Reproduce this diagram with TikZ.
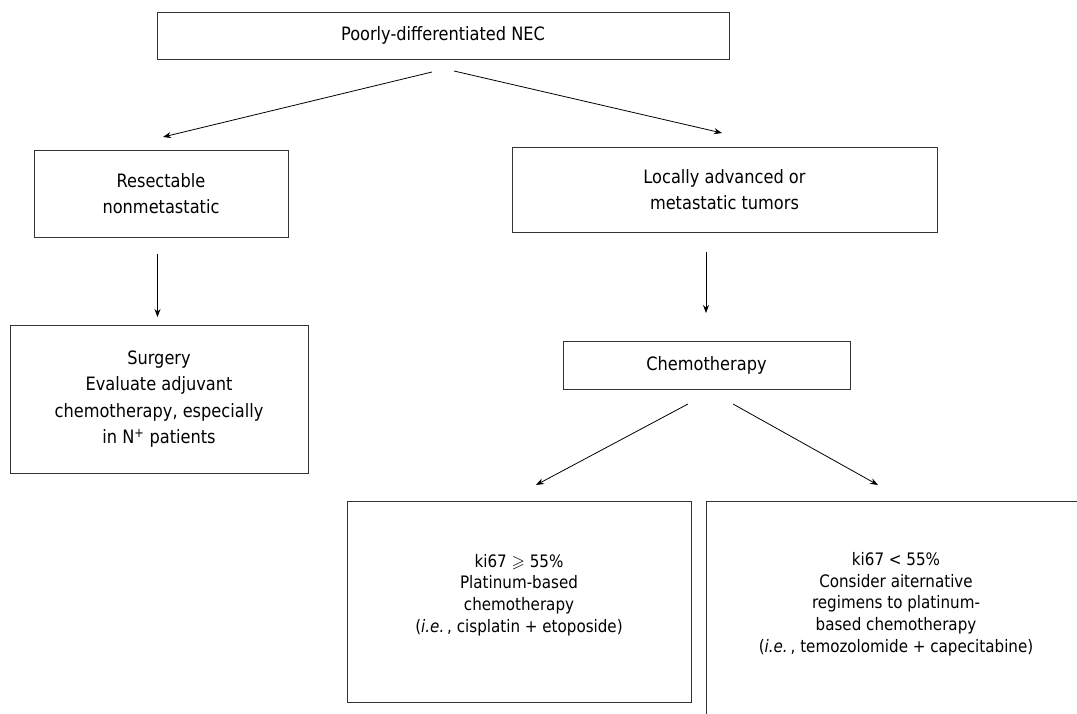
\documentclass[tikz,border=0pt]{standalone}
\usepackage{amssymb}
\usepackage{fontspec}
\setmainfont{DejaVu Sans}[FakeStretch=0.88]
\usetikzlibrary{arrows.meta}
\begin{document}
\begin{tikzpicture}[x=1pt,y=-1pt,
  box/.style={draw=black!80,line width=0.9pt,inner sep=0pt,align=center},
  bigtxt/.style={font=\fontsize{18.4}{26.6}\selectfont},
  smalltxt/.style={font=\fontsize{17.2}{21.7}\selectfont},
  arr/.style={line width=0.8pt,-{Stealth[length=8pt,width=6pt]}}]
\useasboundingbox (0,0) rectangle (1077,714);
\node[box,bigtxt,minimum width=572,minimum height=47] (top) at (443,35.5) {Poorly-differentiated NEC};
\node[box,bigtxt,minimum width=254,minimum height=87] (res) at (161,193.5) {Resectable\\nonmetastatic};
\node[box,bigtxt,minimum width=425,minimum height=85] (loc) at (724.5,189.5) {Locally advanced or\\metastatic tumors};
\node[box,bigtxt,minimum width=298,minimum height=148] (surg) at (159,399) {Surgery\\Evaluate adjuvant\\chemotherapy, especially\\in N\textsuperscript{+} patients};
\node[box,bigtxt,minimum width=287,minimum height=48] (chemo) at (706.5,365) {Chemotherapy};
\node[box,minimum width=344,minimum height=201] (lb) at (519,601.5) {};
\node[smalltxt,align=center] (lbt) at (519,595) {ki67 $\geqslant$ 55\%\\Platinum-based\\chemotherapy\\(\textit{i.e.}\,, cisplatin + etoposide)};
\begin{scope}
\clip (0,0) rectangle (1077,714);
\node[box,minimum width=380,minimum height=226] (rb) at (896,614) {};
\end{scope}
\node[smalltxt,align=center] (rbt) at (896,604) {ki67 < 55\%\\Consider aiternative\\regimens to platinum-\\based chemotherapy\\(\textit{i.e.}\,, temozolomide + capecitabine)};
\coordinate (a1s) at (432,72);
\coordinate (a1e) at (163,137);
\coordinate (a2s) at (454,71);
\coordinate (a2e) at (722,133);
\coordinate (a3s) at (157.5,254);
\coordinate (a3e) at (157.5,317);
\coordinate (a4s) at (706,252);
\coordinate (a4e) at (706,313);
\coordinate (a5s) at (688,404);
\coordinate (a5e) at (536,485);
\coordinate (a6s) at (733,404);
\coordinate (a6e) at (878,485);
\draw[arr] (a1s) -- (a1e);
\draw[arr] (a2s) -- (a2e);
\draw[arr] (a3s) -- (a3e);
\draw[arr] (a4s) -- (a4e);
\draw[arr] (a5s) -- (a5e);
\draw[arr] (a6s) -- (a6e);
\end{tikzpicture}
\end{document}
